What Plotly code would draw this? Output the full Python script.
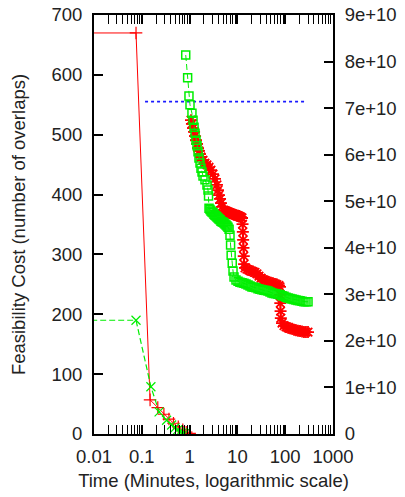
import plotly.graph_objects as go

# ---- data ----
# feasibility phase (left axis: number of overlaps)
feas_red_t = [0.001, 0.0757, 0.149, 0.216, 0.29, 0.37, 0.46, 0.58, 0.72, 0.85, 1.0]
feas_red_v = [670, 670, 57, 44, 33, 25, 18, 12, 7, 3, 1]
feas_green_t = [0.001, 0.0757, 0.155, 0.23, 0.33, 0.42, 0.49, 0.56, 0.63, 0.70, 0.78]
feas_green_v = [190, 190, 79, 37, 23, 15, 10, 7, 4, 2, 0.5]

# optimisation phase (right axis, units of 1e10)
opt_red_t = [1.07, 1.12, 1.18, 1.24, 1.30, 1.36, 1.43, 1.50, 1.57, 1.65, 1.73, 1.91, 2.10, 2.31,
             2.55, 2.80, 3.09, 3.40, 3.74, 3.93, 4.12, 4.33, 4.54, 4.76,
             5.24, 5.50, 5.78, 6.06, 6.36, 6.70, 7.00, 7.35, 7.71, 8.09, 8.49, 8.91, 9.35, 9.81,
             10.3, 10.8, 11.3, 11.9, 12.5,
             12.8, 13.0, 13.2, 13.4, 13.6, 13.8,
             14.4, 15.8, 17.5, 19.3, 21.2, 23.4, 25.7, 28.3, 31.2, 34.3, 37.8, 41.6, 45.8, 50.4,
             55.5, 61.2, 67.3, 74.1, 77.8,
             78.5, 79.0, 80.0, 81.0,
             85.7, 94.3, 104, 115, 126, 139, 153, 168, 185, 204, 225, 247, 272, 300]
opt_red_v = [6.74, 6.66, 6.57, 6.49, 6.40, 6.31, 6.23, 6.14, 6.08, 6.01, 5.95, 5.88, 5.82, 5.78,
             5.73, 5.67, 5.58, 5.48, 5.35, 5.24, 5.13, 5.05, 4.96, 4.88,
             4.81, 4.79, 4.78, 4.77, 4.76, 4.76, 4.75, 4.74, 4.73, 4.72, 4.71, 4.71, 4.70, 4.69,
             4.69, 4.68, 4.67, 4.66, 4.64,
             4.51, 4.34, 4.17, 4.00, 3.82, 3.65,
             3.57, 3.54, 3.52, 3.50, 3.49, 3.47, 3.44, 3.39, 3.35, 3.31, 3.30, 3.28, 3.26, 3.25,
             3.24, 3.22, 3.21, 3.19, 3.16,
             2.99, 2.81, 2.64, 2.49,
             2.38, 2.33, 2.30, 2.28, 2.27, 2.26, 2.24, 2.23, 2.22, 2.21, 2.20, 2.19, 2.19, 2.19]
opt_green_t = [0.83, 0.91, 0.97, 1.02, 1.12, 1.18, 1.24, 1.30, 1.36, 1.43, 1.50, 1.57, 1.65,
               1.73, 1.82, 1.91, 2.10, 2.31, 2.43, 2.49,
               2.55, 2.67, 2.80, 2.94, 3.09, 3.24, 3.40, 3.57, 3.74, 3.93, 4.12, 4.33, 4.54,
               4.76, 5.00, 5.24, 5.50, 5.78, 6.06, 6.36, 6.70,
               7.00, 7.2, 7.4, 7.8, 8.1,
               8.5, 9.35, 10.3, 11.3, 12.5, 13.7, 15.1, 16.7, 18.4, 20.2, 22.3, 24.5, 27.0,
               29.7, 32.7, 36.0, 39.7, 43.7, 48.1, 53.0, 58.3, 64.2, 70.7, 77.8, 85.7, 94.3,
               104, 115, 126, 139, 153, 168, 185, 204, 225, 247, 272, 300]
opt_green_v = [8.14, 7.65, 7.26, 7.07, 6.89, 6.74, 6.59, 6.46, 6.31, 6.19, 6.06, 5.93, 5.82,
               5.71, 5.63, 5.54, 5.46, 5.35, 5.24, 5.11,
               4.85, 4.82, 4.79, 4.77, 4.75, 4.72, 4.70, 4.68, 4.66, 4.64, 4.62, 4.60, 4.57,
               4.56, 4.55, 4.53, 4.51, 4.49, 4.47, 4.44, 4.40,
               4.27, 4.06, 3.84, 3.67, 3.50,
               3.37, 3.31, 3.28, 3.26, 3.25, 3.24, 3.22, 3.20, 3.18, 3.16, 3.15, 3.14, 3.12,
               3.11, 3.10, 3.09, 3.08, 3.07, 3.05, 3.03, 3.02, 3.01, 3.00, 2.99, 2.97, 2.96,
               2.94, 2.92, 2.91, 2.90, 2.89, 2.88, 2.87, 2.86, 2.85, 2.84, 2.84, 2.84]
bound_t = [0.117, 286]
bound_v = [7.14, 7.14]

x_tick_vals = [0.01, 0.1, 1, 10, 100, 1000]
x_tick_text = ["0.01", "0.1", "1", "10", "100", "1000"]
x_minor_vals = [m * d for d in [0.01, 0.1, 1, 10, 100] for m in range(2, 10)]
y1_tick_vals = [0, 100, 200, 300, 400, 500, 600, 700]
y2_tick_vals = [0, 1e10, 2e10, 3e10, 4e10, 5e10, 6e10, 7e10, 8e10, 9e10]
y2_tick_text = ["0", "1e+10", "2e+10", "3e+10", "4e+10", "5e+10", "6e+10", "7e+10", "8e+10", "9e+10"]

RED = "#ff0000"
GREEN = "#00ee00"
BLUE = "#1a1aff"

fig = go.Figure()
fig.add_trace(go.Scatter(x=feas_red_t, y=feas_red_v, mode="lines+markers",
                         line=dict(color=RED, width=1),
                         marker=dict(symbol="cross-thin", size=9, line=dict(color=RED, width=1.2))))
fig.add_trace(go.Scatter(x=feas_green_t, y=feas_green_v, mode="lines+markers",
                         line=dict(color=GREEN, width=1.2, dash="6px,3px"),
                         marker=dict(symbol="x-thin", size=9, line=dict(color=GREEN, width=1.2))))
fig.add_trace(go.Scatter(x=bound_t, y=[v * 1e10 for v in bound_v], mode="lines", yaxis="y2",
                         line=dict(color=BLUE, width=1.6, dash="3px,3px")))
fig.add_trace(go.Scatter(x=opt_red_t, y=[v * 1e10 for v in opt_red_v], mode="lines+markers", yaxis="y2",
                         line=dict(color=RED, width=1),
                         marker=dict(symbol="asterisk", size=10, line=dict(color=RED, width=1.8))))
fig.add_trace(go.Scatter(x=opt_green_t, y=[v * 1e10 for v in opt_green_v], mode="lines+markers", yaxis="y2",
                         line=dict(color=GREEN, width=1, dash="6px,3px"),
                         marker=dict(symbol="square-open", size=8, line=dict(color=GREEN, width=1.5))))

FONT = dict(family="Liberation Sans, Arial, sans-serif", size=18.5, color="#222222")

fig.update_layout(
    width=405, height=497,
    margin=dict(l=94, r=72, t=15, b=63, autoexpand=False),
    paper_bgcolor="white", plot_bgcolor="white",
    showlegend=False,
    font=FONT,
    xaxis=dict(type="log", range=[-2, 3], tickvals=x_tick_vals, ticktext=x_tick_text,
               ticks="inside", ticklen=9, tickwidth=1.5, tickcolor="black",
               showline=True, linecolor="black", linewidth=2, mirror="allticks",
               minor=dict(tickvals=x_minor_vals, ticks="inside", ticklen=5, tickwidth=1.2, tickcolor="black"),
               showgrid=False, zeroline=False, ticklabelstandoff=5, automargin=False,
               title=dict(text="Time (Minutes, logarithmic scale)", standoff=8, font=FONT)),
    yaxis=dict(range=[0, 700], tickvals=y1_tick_vals,
               ticks="inside", ticklen=9, tickwidth=1.5, tickcolor="black",
               showline=True, linecolor="black", linewidth=2, mirror=True,
               showgrid=False, zeroline=False, ticklabelstandoff=6, automargin=False,
               title=dict(text="Feasibility Cost (number of overlaps)", standoff=21, font=FONT)),
    yaxis2=dict(range=[0, 9e10], tickvals=y2_tick_vals, ticktext=y2_tick_text,
                overlaying="y", side="right",
                ticks="inside", ticklen=9, tickwidth=1.5, tickcolor="black",
                showline=True, linecolor="black", linewidth=2,
                showgrid=False, zeroline=False, ticklabelstandoff=6, automargin=False),
)

fig.write_html("out.html")
